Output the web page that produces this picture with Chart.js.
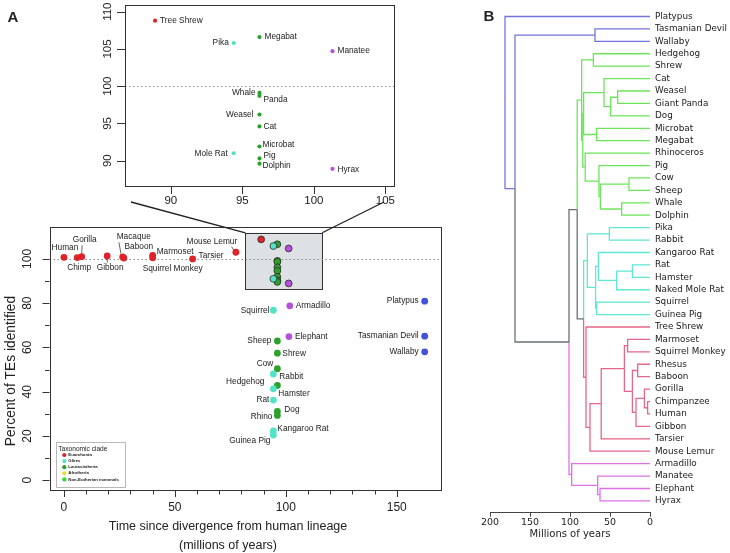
<!DOCTYPE html>
<html>
<head>
<meta charset="utf-8">
<script src="https://cdn.jsdelivr.net/npm/chart.js@4.4.1/dist/chart.umd.min.js"></script>
<style>
  body { margin: 0; background: #fff; }
  #wrap { position: relative; width: 730px; height: 553px; overflow: hidden; }
  canvas { position: absolute; }
</style>
</head>
<body>
<div id="wrap">
  <canvas id="main" width="445" height="553" style="left:0;top:0"></canvas>
  <canvas id="inset" width="440" height="215" style="left:0;top:0"></canvas>
  <canvas id="tree" width="290" height="553" style="left:440px;top:0"></canvas>
</div>
<script>
// ---------- panel A : TEs found vs divergence time ----------
const species = ['Human', 'Chimp', 'Gorilla', 'Gibbon', 'Macaque', 'Baboon', 'Marmoset', 'Squirrel Monkey', 'Tarsier', 'Mouse Lemur', 'Tree Shrew',
  'Pika', 'Mole Rat', 'Squirrel', 'Rabbit', 'Hamster', 'Rat', 'Kangaroo Rat', 'Guinea Pig',
  'Megabat', 'Whale', 'Panda', 'Weasel', 'Cat', 'Microbat', 'Pig', 'Dolphin', 'Sheep', 'Shrew', 'Cow', 'Hedgehog', 'Dog', 'Rhino',
  'Manatee', 'Hyrax', 'Armadillo', 'Elephant',
  'Platypus', 'Tasmanian Devil', 'Wallaby'];
const divergence = [0, 6, 8, 19.5, 26.5, 27, 40, 40, 58, 77.5, 88.9,
  94.4, 94.4, 94.4, 94.4, 94.4, 94.4, 94.4, 94.4,
  96.2, 96.2, 96.2, 96.2, 96.2, 96.2, 96.2, 96.2, 96.2, 96.2, 96.2, 96.2, 96.2, 96.2,
  101.3, 101.3, 101.8, 101.4,
  162.6, 162.6, 162.6];
const percentTE = [100.7, 100.6, 101, 101.3, 100.9, 100.4, 101.6, 100.5, 100, 103, 108.8,
  105.8, 91, 76.8, 48, 41.3, 36.2, 22.3, 20.4,
  106.6, 99.1, 98.7, 96.2, 94.6, 91.9, 90.3, 89.6, 62.9, 57.4, 50.4, 42.8, 31.1, 29.3,
  104.7, 88.9, 78.8, 64.9,
  80.9, 65.1, 58];
const cladeOf = [0, 0, 0, 0, 0, 0, 0, 0, 0, 0, 0,
  1, 1, 1, 1, 1, 1, 1, 1,
  2, 2, 2, 2, 2, 2, 2, 2, 2, 2, 2, 2, 2, 2,
  3, 3, 3, 3,
  4, 4, 4];
const pointColours = ['#e0222b', '#55e3c8', '#2ca12c', '#b452dc', '#4153d8'];

const legendNames = ['Euarchonta', 'Glires', 'Laurasiatheria', 'Afrotheria', 'Non-Eutherian mammals'];
const legendColours = ['#e0222b', '#55e3c8', '#2ca12c', '#e2e22a', '#25e025'];

const mainXTicks = [0, 10, 20, 30, 40, 50, 60, 70, 80, 90, 100, 110, 120, 130, 140, 150];
const mainYTicks = [0, 10, 20, 30, 40, 50, 60, 70, 80, 90, 100];
const insetXTicks = [90, 95, 100, 105];
const insetYTicks = [90, 95, 100, 105, 110];
const zoomBoxX = [81.8, 116.4];
const zoomBoxY = [86.4, 111.8];

// label placement: [dx, dy, align, leader line]
const mainSpots = {
  'Human': [1, -10, 'center'],
  'Chimp': [2, 10, 'center'],
  'Gorilla': [3, -17, 'center', [0.5, -11.5, 0, -3]],
  'Gibbon': [3, 12, 'center', [0, 3, 0.2, 6.5]],
  'Macaque': [11, -20, 'center', [-3.8, -14.6, -1.8, -3.3]],
  'Baboon': [15, -11, 'center'],
  'Marmoset': [4, -4, 'left'],
  'Squirrel Monkey': [20, 11, 'center'],
  'Tarsier': [6, -3, 'left'],
  'Mouse Lemur': [-24, -11, 'center', [-4.3, -5.6, -2, -2]],
  'Squirrel': [-4, 0, 'right'],
  'Armadillo': [6, 0, 'left'],
  'Sheep': [-6, 0, 'right'],
  'Elephant': [6, 0, 'left'],
  'Shrew': [5, 1, 'left'],
  'Cow': [-4, -5, 'right'],
  'Rabbit': [6, 3, 'left'],
  'Hedgehog': [-13, -4, 'right'],
  'Hamster': [5, 5, 'left'],
  'Rat': [-4, 0, 'right'],
  'Dog': [7, -2, 'left'],
  'Rhino': [-5, 1, 'right'],
  'Kangaroo Rat': [4, -2, 'left'],
  'Guinea Pig': [-3, 6, 'right'],
  'Platypus': [-6, 0, 'right'],
  'Tasmanian Devil': [-6, 0, 'right'],
  'Wallaby': [-6, 0, 'right']
};
const insetSpots = {
  'Tree Shrew': [5, 0, 'left'],
  'Pika': [-5, 0, 'right'],
  'Megabat': [5, 0, 'left'],
  'Manatee': [5, 0, 'left'],
  'Whale': [-4, 0, 'right'],
  'Panda': [4, 4, 'left'],
  'Weasel': [-6, 0, 'right'],
  'Cat': [4, 0, 'left'],
  'Microbat': [3, -2, 'left'],
  'Mole Rat': [-6, 0, 'right'],
  'Pig': [4, -3, 'left'],
  'Dolphin': [3, 2, 'left'],
  'Hyrax': [5, 1, 'left']
};

// ---------- panel B : tree ----------
const leaves = ['Platypus', 'Tasmanian Devil', 'Wallaby', 'Hedgehog', 'Shrew', 'Cat', 'Weasel', 'Giant Panda', 'Dog',
  'Microbat', 'Megabat', 'Rhinoceros', 'Pig', 'Cow', 'Sheep', 'Whale', 'Dolphin', 'Pika', 'Rabbit', 'Kangaroo Rat',
  'Rat', 'Hamster', 'Naked Mole Rat', 'Squirrel', 'Guinea Pig', 'Tree Shrew', 'Marmoset', 'Squirrel Monkey', 'Rhesus',
  'Baboon', 'Gorilla', 'Chimpanzee', 'Human', 'Gibbon', 'Tarsier', 'Mouse Lemur', 'Armadillo', 'Manatee', 'Elephant', 'Hyrax'];
const treeTicks = [0, 50, 100, 150, 200];
// [age in millions of years, children...]
const marsupials = [68.75, 'Tasmanian Devil', 'Wallaby'];
const laurasiatheria = [85.4, [70.8, 'Hedgehog', 'Shrew'],
  [84, [83, [57.5, 'Cat', [49.2, [40.4, 'Weasel', 'Giant Panda'], 'Dog']], [66.7, 'Microbat', 'Megabat']],
    [81, 'Rhinoceros', [63.8, 'Pig', [62, [26.3, 'Cow', 'Sheep'], [35.4, 'Whale', 'Dolphin']]]]]];
const glires = [78.3, [50.8, 'Pika', 'Rabbit'],
  [68, [64.6, 'Kangaroo Rat', [41.7, [22, 'Rat', 'Hamster'], 'Naked Mole Rat']], [66.7, 'Squirrel', 'Guinea Pig']]];
const euarchonta = [80, 'Tree Shrew',
  [75, [61, [32, [28, 'Marmoset', 'Squirrel Monkey'],
    [22, [15.4, 'Rhesus', 'Baboon'], [17.5, [7, 'Gorilla', [3, 'Chimpanzee', 'Human']], 'Gibbon']]], 'Tarsier'], 'Mouse Lemur']];
const atlantogenata = [97.9, 'Armadillo', [65.4, 'Manatee', [62.5, 'Elephant', 'Hyrax']]];
const eutheria = [101.25, [91, laurasiatheria, [83, glires, euarchonta]], atlantogenata];
const tree = [181.25, 'Platypus', [168.75, marsupials, eutheria]];
const cladeColours = new Map([
  [tree, '#7474de'], [eutheria, '#687075'], [laurasiatheria, '#6ce55a'],
  [glires, '#5fe8d3'], [euarchonta, '#e8668a'], [atlantogenata, '#e072e8']
]);

Chart.defaults.font.family = "'Liberation Sans', Arial, sans-serif";
Chart.defaults.color = '#222';

function pointsOf(filter) {
  return pointColours.map((c, k) => ({
    data: species.map((n, i) => ({ x: divergence[i], y: percentTE[i], name: n, k: cladeOf[i] }))
      .filter(d => d.k === k && filter(d.name)),
    colour: c
  }));
}
function inZoomBox(d) {
  return d && d.x >= zoomBoxX[0] && d.x <= zoomBoxX[1] && d.y >= zoomBoxY[0] && d.y <= zoomBoxY[1];
}

function drawPointLabels(chart, spots) {
  const ctx = chart.ctx;
  ctx.save();
  ctx.font = "8.3px 'Liberation Sans', Arial, sans-serif";
  ctx.fillStyle = '#222';
  ctx.strokeStyle = '#444';
  ctx.lineWidth = 0.8;
  ctx.textBaseline = 'middle';
  chart.data.datasets.forEach((ds, di) => {
    const meta = chart.getDatasetMeta(di);
    ds.data.forEach((d, i) => {
      const s = spots[d.name];
      if (!s) return;
      const el = meta.data[i];
      ctx.textAlign = s[2];
      ctx.fillText(d.name, el.x + s[0], el.y + s[1]);
      if (s[3]) {
        ctx.beginPath();
        ctx.moveTo(el.x + s[3][0], el.y + s[3][1]);
        ctx.lineTo(el.x + s[3][2], el.y + s[3][3]);
        ctx.stroke();
      }
    });
  });
  ctx.restore();
}

function drawFrame(chart, xTicks, yTicks, isMajorX, isMajorY, majorLen, minorLen, yLabelGap, fontSize) {
  const ctx = chart.ctx, a = chart.chartArea, sx = chart.scales.x, sy = chart.scales.y;
  ctx.save();
  ctx.strokeStyle = '#333';
  ctx.lineWidth = 1;
  ctx.strokeRect(Math.round(a.left) + 0.5, Math.round(a.top) + 0.5, Math.round(a.right - a.left), Math.round(a.bottom - a.top));
  ctx.beginPath();
  xTicks.forEach(v => {
    const p = Math.round(sx.getPixelForValue(v)) + 0.5;
    ctx.moveTo(p, a.bottom);
    ctx.lineTo(p, a.bottom + (isMajorX(v) ? majorLen : minorLen));
  });
  yTicks.forEach(v => {
    const p = Math.round(sy.getPixelForValue(v)) + 0.5;
    ctx.moveTo(a.left, p);
    ctx.lineTo(a.left - (isMajorY(v) ? majorLen : minorLen), p);
  });
  ctx.stroke();
  ctx.fillStyle = '#222';
  ctx.font = fontSize + "px 'Liberation Sans', Arial, sans-serif";
  ctx.textAlign = 'center';
  ctx.textBaseline = 'middle';
  yTicks.filter(isMajorY).forEach(v => {
    ctx.save();
    ctx.translate(a.left - yLabelGap, sy.getPixelForValue(v));
    ctx.rotate(-Math.PI / 2);
    ctx.fillText(String(v), 0, 0);
    ctx.restore();
  });
  ctx.restore();
}

function drawHundredLine(chart) {
  const ctx = chart.ctx, a = chart.chartArea;
  const p = Math.round(chart.scales.y.getPixelForValue(100)) + 0.5;
  ctx.save();
  ctx.strokeStyle = '#8a8a8a';
  ctx.lineWidth = 1;
  ctx.setLineDash([1.5, 2.5]);
  ctx.beginPath();
  ctx.moveTo(a.left, p);
  ctx.lineTo(a.right, p);
  ctx.stroke();
  ctx.restore();
}

// ---- inset ----
const insetSets = pointsOf(n => n in insetSpots);
const insetChart = new Chart(document.getElementById('inset'), {
  type: 'scatter',
  data: {
    datasets: insetSets.map(s => ({
      data: s.data, backgroundColor: s.colour, borderColor: s.colour,
      pointRadius: 2.1, pointBorderWidth: 0
    }))
  },
  options: {
    responsive: false, animation: false, devicePixelRatio: 1,
    layout: { padding: { top: 5, right: 46, left: 0, bottom: 0 } },
    plugins: { legend: { display: false }, tooltip: { enabled: false } },
    scales: {
      x: {
        type: 'linear', min: 86.8, max: 105.6,
        afterFit: s => { s.height = 29; },
        afterBuildTicks: s => { s.ticks = insetXTicks.map(v => ({ value: v })); },
        grid: { display: false, drawTicks: false }, border: { display: false },
        ticks: { padding: 8, font: { size: 11.5 }, color: '#222', autoSkip: false, maxRotation: 0 }
      },
      y: {
        type: 'linear', min: 86.6, max: 110.9,
        afterFit: s => { s.width = 125; },
        grid: { display: false, drawTicks: false }, border: { display: false },
        ticks: { display: false }
      }
    }
  },
  plugins: [{
    id: 'insetDeco',
    beforeDatasetsDraw(chart) { drawHundredLine(chart); },
    afterDatasetsDraw(chart) {
      drawPointLabels(chart, insetSpots);
      drawFrame(chart, insetXTicks, insetYTicks, () => true, () => true, 8, 8, 17, 11.5);
    }
  }]
});

// ---- main scatter ----
const mainSets = pointsOf(() => true);
new Chart(document.getElementById('main'), {
  type: 'scatter',
  data: {
    datasets: mainSets.map(s => ({
      data: s.data, backgroundColor: s.colour,
      pointRadius: 3.4,
      pointBorderColor: c => inZoomBox(c.raw) ? '#2a2a2a' : s.colour,
      pointBorderWidth: c => inZoomBox(c.raw) ? 0.8 : 0
    }))
  },
  options: {
    responsive: false, animation: false, devicePixelRatio: 1,
    layout: { padding: { top: 227, right: 5, left: 0, bottom: 0 } },
    plugins: { legend: { display: false }, tooltip: { enabled: false } },
    scales: {
      x: {
        type: 'linear', min: -6.5, max: 169.5,
        afterFit: s => { s.height = 63; },
        afterBuildTicks: s => { s.ticks = mainXTicks.map(v => ({ value: v })); },
        grid: { display: false, drawTicks: false }, border: { display: false },
        ticks: { padding: 10, font: { size: 12 }, color: '#222', autoSkip: false, maxRotation: 0,
          callback: v => (v % 50 === 0 ? String(v) : '') }
      },
      y: {
        type: 'linear', min: -4.4, max: 114.4,
        afterFit: s => { s.width = 49.5; },
        grid: { display: false, drawTicks: false }, border: { display: false },
        ticks: { display: false }
      }
    }
  },
  plugins: [{
    id: 'mainDeco',
    beforeDatasetsDraw(chart) {
      const ctx = chart.ctx, sx = chart.scales.x, sy = chart.scales.y;
      const x1 = sx.getPixelForValue(zoomBoxX[0]), x2 = sx.getPixelForValue(zoomBoxX[1]);
      const y1 = sy.getPixelForValue(zoomBoxY[1]), y2 = sy.getPixelForValue(zoomBoxY[0]);
      ctx.save();
      ctx.fillStyle = '#dde1e3';
      ctx.fillRect(x1, y1, x2 - x1, y2 - y1);
      ctx.strokeStyle = '#333';
      ctx.lineWidth = 1;
      ctx.strokeRect(Math.round(x1) + 0.5, Math.round(y1) + 0.5, Math.round(x2 - x1), Math.round(y2 - y1));
      ctx.restore();
      drawHundredLine(chart);
    },
    afterDatasetsDraw(chart) {
      const ctx = chart.ctx, a = chart.chartArea, sx = chart.scales.x, sy = chart.scales.y;
      drawPointLabels(chart, mainSpots);
      drawFrame(chart, mainXTicks, mainYTicks, v => v % 50 === 0, v => v % 20 === 0, 7, 4.5, 21.5, 12);

      ctx.save();
      // axis titles
      ctx.fillStyle = '#222';
      ctx.textAlign = 'center';
      ctx.textBaseline = 'middle';
      ctx.font = "12.5px 'Liberation Sans', Arial, sans-serif";
      ctx.fillText('Time since divergence from human lineage', 228, a.bottom + 37);
      ctx.fillText('(millions of years)', 228, a.bottom + 56);
      ctx.save();
      ctx.translate(11, 371);
      ctx.rotate(-Math.PI / 2);
      ctx.font = "13.8px 'Liberation Sans', Arial, sans-serif";
      ctx.fillText('Percent of TEs identified', 0, 0);
      ctx.restore();

      // legend
      const lx = a.left + 6.5, ly = a.bottom - 48.3;
      ctx.strokeStyle = '#b8b8b8';
      ctx.lineWidth = 1;
      ctx.fillStyle = '#fff';
      ctx.fillRect(lx, ly, 69, 45);
      ctx.strokeRect(Math.round(lx) + 0.5, Math.round(ly) + 0.5, 69, 45);
      ctx.fillStyle = '#222';
      ctx.textAlign = 'left';
      ctx.font = "6.6px 'Liberation Sans', Arial, sans-serif";
      ctx.fillText('Taxonomic clade', lx + 2.3, ly + 7.3);
      ctx.font = "bold 4.3px 'Liberation Sans', Arial, sans-serif";
      legendNames.forEach((n, i) => {
        const yy = ly + 13.3 + i * 6.1;
        ctx.fillStyle = legendColours[i];
        ctx.beginPath();
        ctx.arc(lx + 8.3, yy, 2.1, 0, Math.PI * 2);
        ctx.fill();
        ctx.fillStyle = '#222';
        ctx.fillText(n, lx + 12.3, yy);
      });

      // zoom connectors
      const ia = insetChart.chartArea;
      ctx.strokeStyle = '#222';
      ctx.lineWidth = 1.3;
      ctx.beginPath();
      ctx.moveTo(ia.left + 6, ia.bottom + 16);
      ctx.lineTo(sx.getPixelForValue(zoomBoxX[0]), sy.getPixelForValue(zoomBoxY[1]));
      ctx.moveTo(ia.right - 10, ia.bottom + 16);
      ctx.lineTo(sx.getPixelForValue(zoomBoxX[1]), sy.getPixelForValue(zoomBoxY[1]));
      ctx.stroke();

      ctx.font = "bold 15px 'Liberation Sans', Arial, sans-serif";
      ctx.textAlign = 'center';
      ctx.fillText('A', 13, 18);
      ctx.restore();
    }
  }]
});

// ---- dendrogram ----
function place(node) {
  if (typeof node === 'string') return { age: 0, y: leaves.indexOf(node) };
  const kids = node.slice(1).map(place);
  return { age: node[0], y: (kids[0].y + kids[kids.length - 1].y) / 2, kids: kids, node: node };
}
function collectEdges(p, colour, out) {
  if (!p.kids) return;
  p.kids.forEach(k => {
    const c = (k.node && cladeColours.get(k.node)) || colour;
    out.push({ colour: c, pts: [{ x: p.age, y: p.y }, { x: p.age, y: k.y }, { x: k.age, y: k.y }] });
    collectEdges(k, c, out);
  });
}
const edges = [];
collectEdges(place(tree), cladeColours.get(tree), edges);

new Chart(document.getElementById('tree'), {
  type: 'scatter',
  data: {
    datasets: edges.map(e => ({
      data: e.pts, showLine: true, borderColor: e.colour, borderWidth: 1.3,
      pointRadius: 0, tension: 0
    }))
  },
  options: {
    responsive: false, animation: false, devicePixelRatio: 1,
    layout: { padding: { top: 1, right: 0, left: 50, bottom: 0 } },
    plugins: { legend: { display: false }, tooltip: { enabled: false } },
    scales: {
      x: {
        type: 'linear', min: 0, max: 200, reverse: true,
        afterFit: s => { s.height = 40.3; },
        afterBuildTicks: s => { s.ticks = treeTicks.map(v => ({ value: v })); },
        grid: { drawOnChartArea: false, drawTicks: true, tickLength: 4, color: '#444' },
        border: { display: true, color: '#444', width: 1 },
        ticks: { padding: 0, font: { family: "'DejaVu Sans', Verdana, sans-serif", size: 9.5 }, color: '#222', maxRotation: 0, autoSkip: false }
      },
      y: {
        type: 'linear', position: 'right', min: -0.5, max: 39.95, reverse: true,
        afterFit: s => { s.width = 80; },
        afterBuildTicks: s => { s.ticks = leaves.map((n, i) => ({ value: i })); },
        grid: { display: false, drawTicks: false }, border: { display: false },
        ticks: { padding: 5, autoSkip: false, color: '#1a1a1a',
          font: { family: "'DejaVu Sans', Verdana, sans-serif", size: 8.8 },
          callback: v => leaves[v] }
      }
    }
  },
  plugins: [{
    id: 'treeDeco',
    afterDraw(chart) {
      const ctx = chart.ctx, a = chart.chartArea;
      ctx.save();
      ctx.fillStyle = '#222';
      ctx.textAlign = 'center';
      ctx.textBaseline = 'middle';
      ctx.font = "10px 'DejaVu Sans', Verdana, sans-serif";
      ctx.fillText('Millions of years', (a.left + a.right) / 2, a.bottom + 21.5);
      ctx.font = "bold 15px 'Liberation Sans', Arial, sans-serif";
      ctx.fillText('B', 49, 17);
      ctx.restore();
    }
  }]
});
</script>
</body>
</html>
